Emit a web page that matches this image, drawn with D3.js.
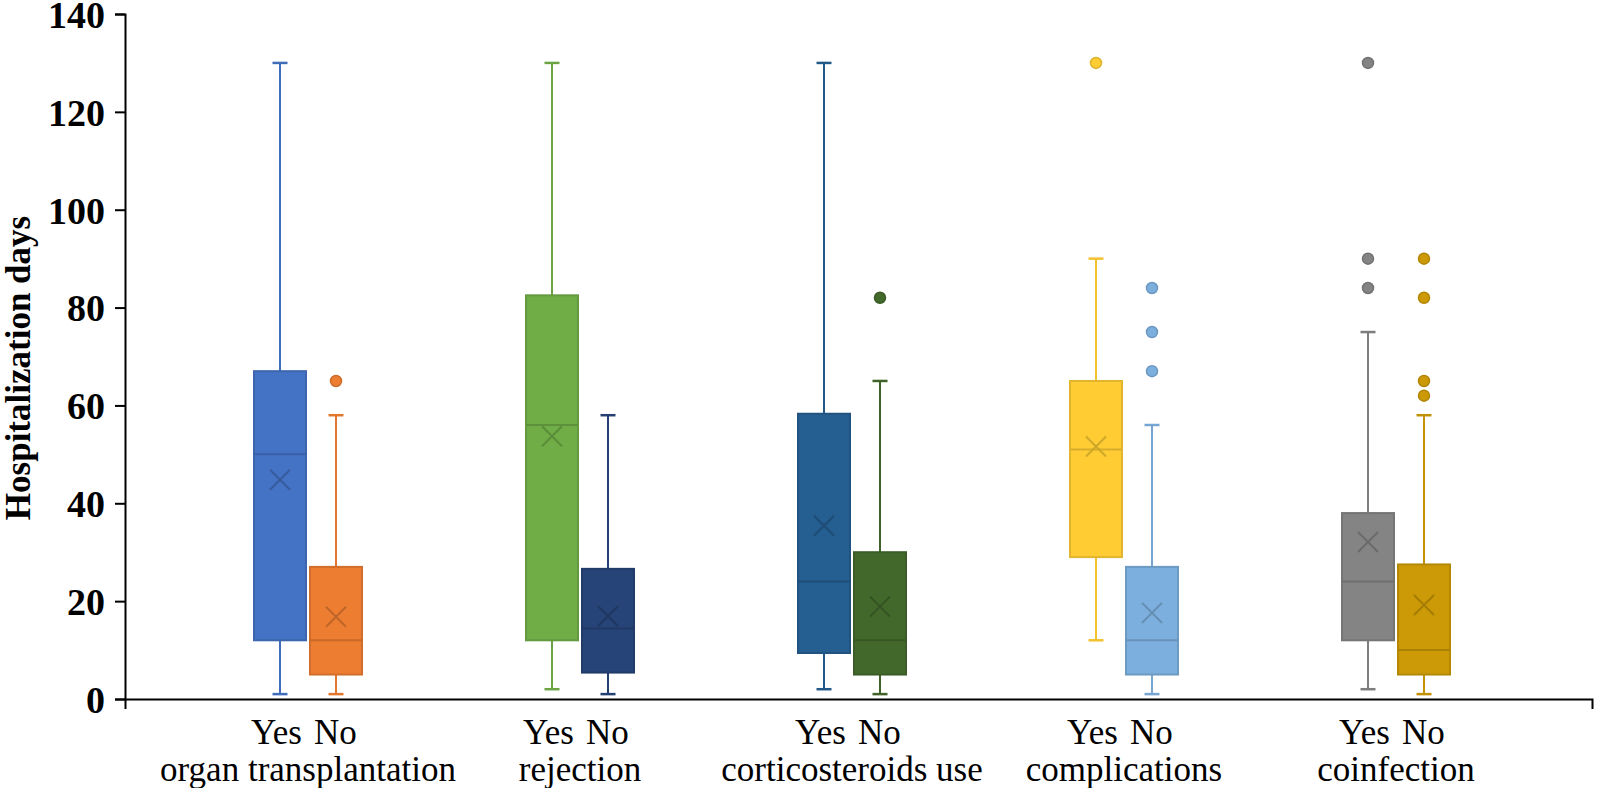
<!DOCTYPE html>
<html>
<head>
<meta charset="utf-8">
<script src="https://cdn.jsdelivr.net/npm/d3@7"></script>
<style>
  body { margin: 0; background: #fff; }
  svg { display: block; }
  .axis path, .axis line { stroke: #000; stroke-width: 2; }
  .axis text { font-family: "Liberation Serif", "Times New Roman", serif; font-weight: bold; font-size: 38px; fill: #000; }
  .lbl { font-family: "Liberation Serif", "Times New Roman", serif; font-size: 35px; fill: #000; }
</style>
</head>
<body>
<svg id="chart" width="1600" height="788"></svg>
<script>
// categories and the two groups inside each
const categories = ['organ transplantation', 'rejection', 'corticosteroids use', 'complications', 'coinfection'];
const groups = ['Yes', 'No'];
const yTicks = [0, 20, 40, 60, 80, 100, 120, 140];

// box stats, order: cat1 Yes, cat1 No, cat2 Yes, ...
const whiskerLow  = [1, 1, 2, 1, 2, 1, 12, 1, 2, 1];
const q1          = [12, 5, 12, 5.4, 9.4, 5, 29, 5, 12, 5];
const median      = [50, 12, 56, 14.4, 24, 12, 51, 12, 24, 10];
const q3          = [67, 27, 82.5, 26.6, 58.3, 30, 65, 27, 38, 27.5];
const whiskerHigh = [130, 58, 130, 58, 130, 65, 90, 56, 75, 58];
const mean        = [44.8, 16.8, 53.7, 16.9, 35.4, 18.9, 51.6, 17.6, 32.1, 19.2];
const outliers    = [[], [65], [], [], [], [82], [130], [84, 75, 67], [130, 90, 84], [90, 82, 65, 62]];

const colors = ['#4472C4', '#ED7D31', '#70AD47', '#264478', '#255E91',
                '#43682B', '#FFCD33', '#7CAFDD', '#848484', '#CC9A06'];

const svg = d3.select('#chart');

const cs = {
    left: 125, right: 1592, top: 14, bottom: 699,
    box: { width: 52, cap: 15 }
};

const y = d3.scaleLinear().domain([0, 140]).range([cs.bottom, cs.top]);
const x = d3.scaleBand().domain(categories).range([172, 1532]);
const xg = d3.scaleBand().domain(groups).range([-56, 56]);

const boxes = [];
categories.forEach((c, ci) => groups.forEach((g, gi) => {
    const i = ci * 2 + gi;
    boxes.push({
        cat: c, grp: g, color: colors[i],
        lo: whiskerLow[i], q1: q1[i], med: median[i], q3: q3[i], hi: whiskerHigh[i],
        mean: mean[i], out: outliers[i]
    });
}));

const cx = d => x(d.cat) + x.bandwidth() / 2 + xg(d.grp) + xg.bandwidth() / 2;
const dark = (c, k) => d3.color(c).darker(k).formatHex();

const g = svg.selectAll('g.box').data(boxes).enter().append('g').attr('class', 'box');

// whiskers
g.append('line')
    .attr('x1', cx).attr('x2', cx)
    .attr('y1', d => y(d.hi)).attr('y2', d => y(d.lo))
    .attr('stroke', d => dark(d.color, 0.15)).attr('stroke-width', 2);
g.selectAll('line.cap').data(d => [d, d].map((e, k) => ({ d: e, v: k ? e.lo : e.hi })))
    .enter().append('line').attr('class', 'cap')
    .attr('x1', e => cx(e.d) - cs.box.cap / 2).attr('x2', e => cx(e.d) + cs.box.cap / 2)
    .attr('y1', e => y(e.v)).attr('y2', e => y(e.v))
    .attr('stroke', e => dark(e.d.color, 0.15)).attr('stroke-width', 2.5);

// boxes
g.append('rect')
    .attr('x', d => cx(d) - cs.box.width / 2)
    .attr('width', cs.box.width)
    .attr('y', d => y(d.q3))
    .attr('height', d => y(d.q1) - y(d.q3))
    .attr('fill', d => d.color)
    .attr('stroke', d => dark(d.color, 0.35)).attr('stroke-width', 2);

// median
g.append('line')
    .attr('x1', d => cx(d) - cs.box.width / 2).attr('x2', d => cx(d) + cs.box.width / 2)
    .attr('y1', d => y(d.med)).attr('y2', d => y(d.med))
    .attr('stroke', d => dark(d.color, 0.5)).attr('stroke-width', 2);

// mean marker (x)
g.append('path')
    .attr('d', d => {
        const px = cx(d), py = y(d.mean), s = 10;
        return `M${px - s},${py - s}L${px + s},${py + s}M${px - s},${py + s}L${px + s},${py - s}`;
    })
    .attr('stroke', d => dark(d.color, 0.6)).attr('stroke-width', 2).attr('fill', 'none');

// outliers
g.selectAll('circle').data(d => d.out.map(v => ({ d, v })))
    .enter().append('circle')
    .attr('cx', e => cx(e.d)).attr('cy', e => y(e.v)).attr('r', 5.5)
    .attr('fill', e => e.d.color)
    .attr('stroke', e => dark(e.d.color, 0.4)).attr('stroke-width', 1.5);

// axes
svg.append('g').attr('class', 'axis')
    .attr('transform', 'translate(' + cs.left + ',0)')
    .call(d3.axisLeft(y).tickValues(yTicks).tickSize(10).tickSizeOuter(10).tickPadding(10))
    .call(a => a.selectAll('text').attr('dy', '0.35em'));

const xLine = d3.scaleLinear().range([cs.left, cs.right]);
svg.append('g').attr('class', 'axis')
    .attr('transform', 'translate(0,' + cs.bottom + ')')
    .call(d3.axisBottom(xLine).tickValues([]).tickSizeOuter(10));

// category labels
const lab = svg.append('g');
categories.forEach(c => {
    const mid = x(c) + x.bandwidth() / 2;
    lab.append('text').attr('class', 'lbl').attr('x', mid - 6).attr('y', 744).attr('text-anchor', 'end').text(groups[0]);
    lab.append('text').attr('class', 'lbl').attr('x', mid + 6).attr('y', 744).attr('text-anchor', 'start').text(groups[1]);
    lab.append('text').attr('class', 'lbl').attr('x', mid).attr('y', 781).attr('text-anchor', 'middle').text(c);
});

// y axis title
svg.append('text')
    .attr('transform', 'translate(30,368) rotate(-90)')
    .attr('text-anchor', 'middle')
    .style('font-family', '"Liberation Serif", "Times New Roman", serif')
    .style('font-weight', 'bold').style('font-size', '35px')
    .text('Hospitalization days');
</script>
</body>
</html>
